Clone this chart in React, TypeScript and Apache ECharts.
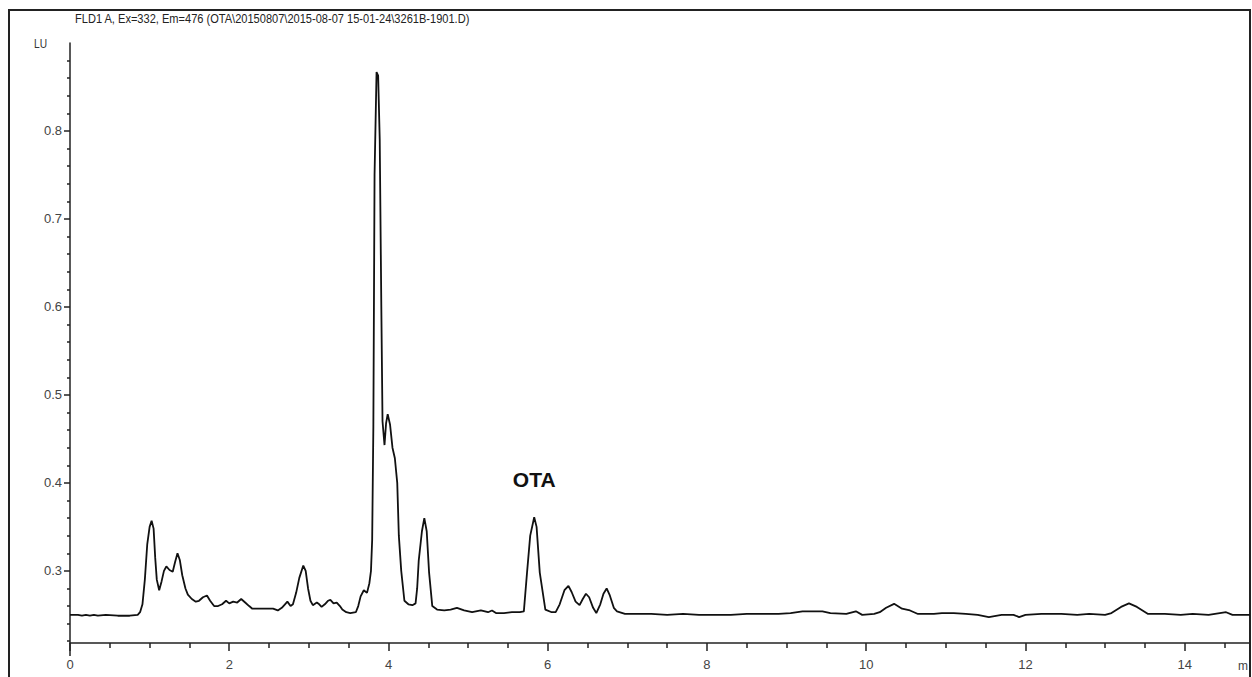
import React, { useEffect, useRef } from "react";
import * as echarts from "echarts";

const TITLE = "FLD1 A, Ex=332, Em=476 (OTA\\20150807\\2015-08-07 15-01-24\\3261B-1901.D)";
const Y_UNIT = "LU";
const X_UNIT = "m";
const PEAK_NAME = "OTA";
const PEAK_TIME = 5.83;
const PEAK_VALUE = 0.361;

const Y_MAJOR = [0.3, 0.4, 0.5, 0.6, 0.7, 0.8];

const TIME = [
  0.0, 0.1, 0.15, 0.2, 0.25, 0.3, 0.35, 0.45, 0.6, 0.75, 0.85, 0.88, 0.91, 0.94, 0.97, 1.0, 1.025, 1.05, 1.07, 1.09,
  1.12, 1.15, 1.18, 1.21, 1.25, 1.29, 1.32, 1.35, 1.38, 1.41, 1.45, 1.48, 1.53, 1.58, 1.62, 1.67, 1.72, 1.76, 1.81, 1.86,
  1.91, 1.96, 2.0, 2.05, 2.1, 2.15, 2.2, 2.25, 2.29, 2.35, 2.45, 2.55, 2.61, 2.66, 2.7, 2.73, 2.77, 2.8, 2.84, 2.88,
  2.93, 2.96, 2.99, 3.02, 3.05, 3.1, 3.13, 3.16, 3.2, 3.24, 3.27, 3.31, 3.35, 3.39, 3.42, 3.47, 3.52, 3.59, 3.62, 3.65,
  3.69, 3.73, 3.76, 3.78, 3.795, 3.81, 3.825, 3.85, 3.87, 3.89, 3.91, 3.925, 3.95, 3.97, 3.99, 4.02, 4.05, 4.08, 4.11, 4.13,
  4.16, 4.2, 4.25, 4.3, 4.34, 4.36, 4.38, 4.42, 4.45, 4.48, 4.51, 4.55, 4.61, 4.7, 4.78, 4.86, 4.95, 5.05, 5.16, 5.25,
  5.3, 5.35, 5.45, 5.55, 5.65, 5.7, 5.74, 5.78, 5.83, 5.86, 5.9, 5.97, 6.05, 6.1, 6.15, 6.21, 6.26, 6.3, 6.35, 6.4,
  6.44, 6.48, 6.52, 6.57, 6.61, 6.66, 6.7, 6.74, 6.78, 6.83, 6.87, 6.97, 7.1, 7.3, 7.5, 7.7, 7.9, 8.1, 8.3, 8.5,
  8.7, 8.9, 9.05, 9.2, 9.45, 9.55, 9.75, 9.87, 9.95, 10.1, 10.17, 10.25, 10.35, 10.45, 10.55, 10.65, 10.85, 10.95, 11.1, 11.25,
  11.4, 11.54, 11.7, 11.85, 11.92, 12.0, 12.2, 12.45, 12.65, 12.8, 13.0, 13.08, 13.2, 13.3, 13.4, 13.54, 13.75, 13.95, 14.1, 14.3,
  14.52, 14.6, 14.82,
];

const SIGNAL = [
  0.25, 0.25, 0.249, 0.25, 0.249, 0.25, 0.249, 0.25, 0.249, 0.249, 0.25, 0.253, 0.262, 0.29, 0.33, 0.35, 0.357, 0.348, 0.315, 0.29,
  0.278, 0.288, 0.3, 0.305, 0.301, 0.299, 0.31, 0.32, 0.312, 0.295, 0.28, 0.273, 0.268, 0.265, 0.266, 0.27, 0.272, 0.266, 0.26, 0.26,
  0.262, 0.266, 0.263, 0.265, 0.264, 0.268, 0.264, 0.26, 0.257, 0.257, 0.257, 0.257, 0.255, 0.258, 0.262, 0.265, 0.26, 0.262, 0.275, 0.292,
  0.306, 0.3, 0.28, 0.266, 0.261, 0.264, 0.262, 0.259, 0.262, 0.266, 0.267, 0.263, 0.264, 0.26, 0.256, 0.253, 0.252, 0.253, 0.26, 0.271,
  0.278, 0.275, 0.286, 0.3, 0.335, 0.464, 0.75, 0.867, 0.863, 0.79, 0.6, 0.47, 0.443, 0.468, 0.478, 0.466, 0.44, 0.428, 0.4, 0.34,
  0.3, 0.266, 0.262, 0.261, 0.263, 0.28, 0.312, 0.345, 0.36, 0.345, 0.298, 0.26, 0.256, 0.255, 0.256, 0.258, 0.255, 0.253, 0.255, 0.253,
  0.255, 0.252, 0.252, 0.253, 0.253, 0.254, 0.298, 0.34, 0.361, 0.35, 0.298, 0.256, 0.253, 0.253, 0.262, 0.278, 0.283, 0.276, 0.265, 0.261,
  0.268, 0.274, 0.27, 0.258, 0.252, 0.262, 0.274, 0.28, 0.272, 0.258, 0.254, 0.251, 0.251, 0.251, 0.25, 0.251, 0.25, 0.25, 0.25, 0.251,
  0.251, 0.251, 0.252, 0.254, 0.254, 0.252, 0.251, 0.254, 0.25, 0.251, 0.253, 0.258, 0.2625, 0.257, 0.255, 0.251, 0.251, 0.252, 0.252, 0.251,
  0.25, 0.2475, 0.25, 0.25, 0.2475, 0.25, 0.251, 0.251, 0.25, 0.251, 0.25, 0.252, 0.259, 0.263, 0.259, 0.251, 0.251, 0.25, 0.251, 0.25,
  0.253, 0.25, 0.25,
];

const FONT = "'Liberation Sans', Arial, sans-serif";

export default function App() {
  const ref = useRef<HTMLDivElement>(null);

  useEffect(() => {
    if (!ref.current) return;
    const chart = echarts.init(ref.current, null, { renderer: "svg" });

    const minor: number[] = [];
    for (let k = 11; k <= 44; k++) {
      const v = Math.round(k * 0.02 * 1000) / 1000;
      if (Math.abs(v * 10 - Math.round(v * 10)) > 1e-6) minor.push(v);
    }

    const data = TIME.map((t, i) => [t, SIGNAL[i]]);

    const option: any = {
      animation: false,
      backgroundColor: "#ffffff",
      textStyle: { fontFamily: FONT },
      grid: { left: 70, top: 43, width: 1180, height: 600, containLabel: false },
      xAxis: {
        type: "value",
        min: 0,
        max: 14.82,
        interval: 2,
        axisLine: { show: true, lineStyle: { color: "#222", width: 1.5 } },
        axisTick: { show: true, length: 8, lineStyle: { color: "#222", width: 1.5 } },
        minorTick: { show: true, splitNumber: 4, length: 5, lineStyle: { color: "#222", width: 1.5 } },
        axisLabel: {
          show: true,
          margin: 15,
          color: "#444",
          fontSize: 13,
          fontFamily: FONT,
          showMaxLabel: false,
        },
        splitLine: { show: false },
        minorSplitLine: { show: false },
      },
      yAxis: [
        {
          type: "value",
          min: 0.218,
          max: 0.9,
          position: "left",
          axisLine: { show: true, lineStyle: { color: "#222", width: 1.5 } },
          axisTick: { show: true, length: 6, customValues: Y_MAJOR, lineStyle: { color: "#222", width: 1.5 } },
          axisLabel: {
            show: true,
            customValues: Y_MAJOR,
            margin: 8,
            color: "#444",
            fontSize: 13,
            fontFamily: FONT,
            formatter: (v: number) => v.toFixed(1),
          },
          splitLine: { show: false },
        },
        {
          type: "value",
          min: 0.218,
          max: 0.9,
          position: "left",
          axisLine: { show: false },
          axisTick: { show: true, length: 3, customValues: minor, lineStyle: { color: "#222", width: 1.5 } },
          axisLabel: { show: false },
          splitLine: { show: false },
        },
      ],
      series: [
        {
          type: "line",
          data,
          showSymbol: false,
          symbol: "none",
          lineStyle: { color: "#111", width: 1.8 },
          clip: true,
          markPoint: {
            symbol: "circle",
            symbolSize: 0,
            itemStyle: { color: "transparent" },
            label: {
              show: true,
              formatter: PEAK_NAME,
              offset: [0, -38],
              color: "#111",
              fontSize: 21,
              fontWeight: "bold",
              fontFamily: FONT,
            },
            data: [{ coord: [PEAK_TIME, PEAK_VALUE] }],
          },
        },
      ],
      graphic: [
        {
          type: "rect",
          silent: true,
          shape: { x: 9, y: 10, width: 1241, height: 720 },
          style: { fill: "none", stroke: "#222", lineWidth: 2 },
        },
        {
          type: "text",
          x: 75,
          y: 19,
          scaleX: 0.82,
          style: {
            text: TITLE,
            fontSize: 13.5,
            fontFamily: FONT,
            fill: "#222",
            verticalAlign: "middle",
          },
        },
        {
          type: "text",
          x: 34,
          y: 44,
          scaleX: 0.85,
          style: { text: Y_UNIT, fontSize: 12, fontFamily: FONT, fill: "#333", verticalAlign: "middle" },
        },
        {
          type: "text",
          x: 1238,
          y: 666,
          style: { text: X_UNIT, fontSize: 12, fontFamily: FONT, fill: "#444", verticalAlign: "middle" },
        },
        {
          type: "line",
          silent: true,
          shape: { x1: 70, y1: 643, x2: 70, y2: 656 },
          style: { stroke: "#222", lineWidth: 1.5 },
        },
      ],
    };

    chart.setOption(option);
    return () => chart.dispose();
  }, []);

  return (
    <div
      ref={ref}
      style={{ position: "absolute", left: 0, top: 0, width: 1252, height: 677, background: "#fff" }}
    />
  );
}
